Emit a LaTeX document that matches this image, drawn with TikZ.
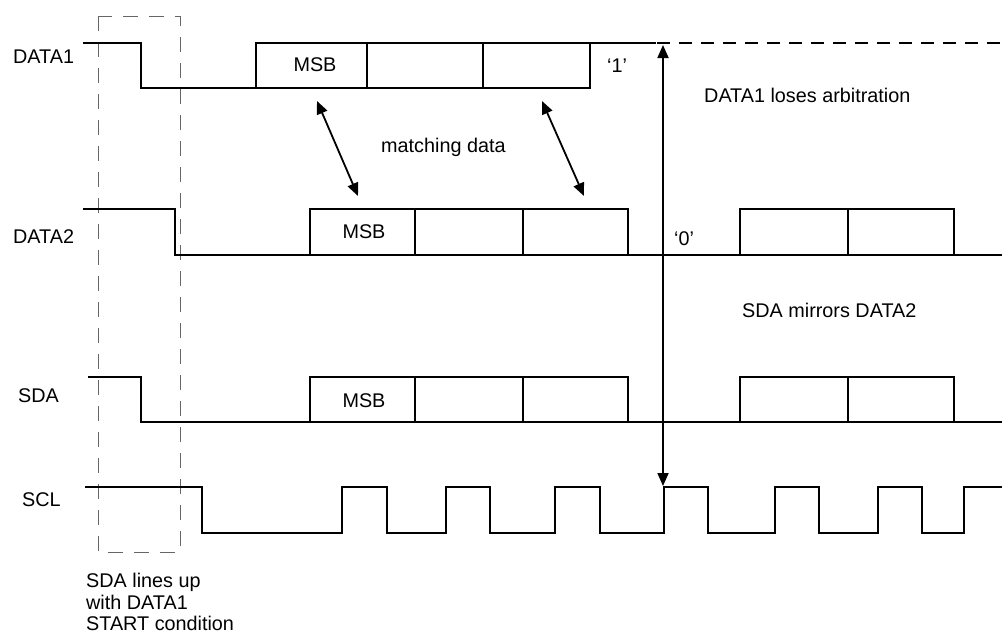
\documentclass[tikz,border=0pt]{standalone}
\usepackage{fontspec}
\setmainfont{Liberation Sans}
\usetikzlibrary{arrows.meta}
\begin{document}
\begin{tikzpicture}[x=1pt,y=-1pt,
  sig/.style={line width=2.8pt, line join=miter, line cap=rect},
  div/.style={line width=2pt},
  lbl/.style={font=\fontsize{19.8}{23}\selectfont, inner sep=0pt, anchor=base west},
  lblc/.style={font=\fontsize{19.8}{23}\selectfont, inner sep=0pt, anchor=base},
  dbl/.style={line width=1.8pt, {Triangle[length=13pt,width=11pt]}-{Triangle[length=13pt,width=11pt]}},
  startbox/.style={draw=black!60, line width=1pt, dash pattern=on 15pt off 11pt}
]
\useasboundingbox (0,0) rectangle (1002,635);

% START condition window
\draw[startbox] (98,16) rectangle (180,552);

% DATA1
\draw[sig] (84,43) -| (141,88) -- (590,88) -- (590,43);
\draw[sig] (256,88) -- (256,43) -- (655,43);
\draw[div] (367,43) -- (367,88);
\draw[div] (483,43) -- (483,88);
\draw[sig, line cap=butt, dash pattern=on 13pt off 9pt] (657,43) -- (1002,43);

% DATA2
\draw[sig] (84,209) -| (175,255) -- (1002,255);
\draw[sig] (310,255) |- (628,209) -- (628,255);
\draw[div] (415,209) -- (415,255);
\draw[div] (523,209) -- (523,255);
\draw[sig] (740,255) |- (954,209) -- (954,255);
\draw[div] (848,209) -- (848,255);

% SDA
\draw[sig] (89,377) -| (141,422) -- (1002,422);
\draw[sig] (310,422) |- (628,377) -- (628,422);
\draw[div] (415,377) -- (415,422);
\draw[div] (523,377) -- (523,422);
\draw[sig] (740,422) |- (954,377) -- (954,422);
\draw[div] (848,377) -- (848,422);

% SCL
\draw[sig] (86,487) -| (202,533) -| (342,487) -| (387,533) -| (446,487) -| (490,533)
  -| (555,487) -| (600,533) -| (664,487) -| (708,533) -| (775,487) -| (819,533)
  -| (878,487) -| (922,533) -| (964,487) -- (1002,487);

% labels
\node[lbl] (l1) at (13,63) {DATA1};
\node[lbl] (l2) at (13,243) {DATA2};
\node[lbl] (l3) at (18,402) {SDA};
\node[lbl] (l4) at (22,506) {SCL};

\node[lblc] (m1) at (315,71) {MSB};
\node[lblc] (m2) at (364,238) {MSB};
\node[lblc] (m3) at (364,407) {MSB};

\node[lbl] (one) at (607,72) {‘1’};
\node[lbl] (zero) at (674,245) {‘0’};
\node[lbl] (lose) at (704,102) {DATA1 loses arbitration};
\node[lbl] (match) at (381,152) {matching data};
\node[lbl] (mirror) at (742,317) {SDA mirrors DATA2};

\node[lbl] (b1) at (86,587) {SDA lines up};
\node[lbl] (b2) at (86,609) {with DATA1};
\node[lbl] (b3) at (86,630) {START condition};

% arrows
\coordinate (a1s) at (317,101);
\coordinate (a1e) at (358,196);
\coordinate (a2s) at (542,101);
\coordinate (a2e) at (584,196);
\draw[dbl] (a1s) -- (a1e);
\draw[dbl] (a2s) -- (a2e);
\coordinate (vt) at (663,45);
\coordinate (vb) at (663,486);
\draw[dbl] (vt) -- (vb);
\end{tikzpicture}
\end{document}
